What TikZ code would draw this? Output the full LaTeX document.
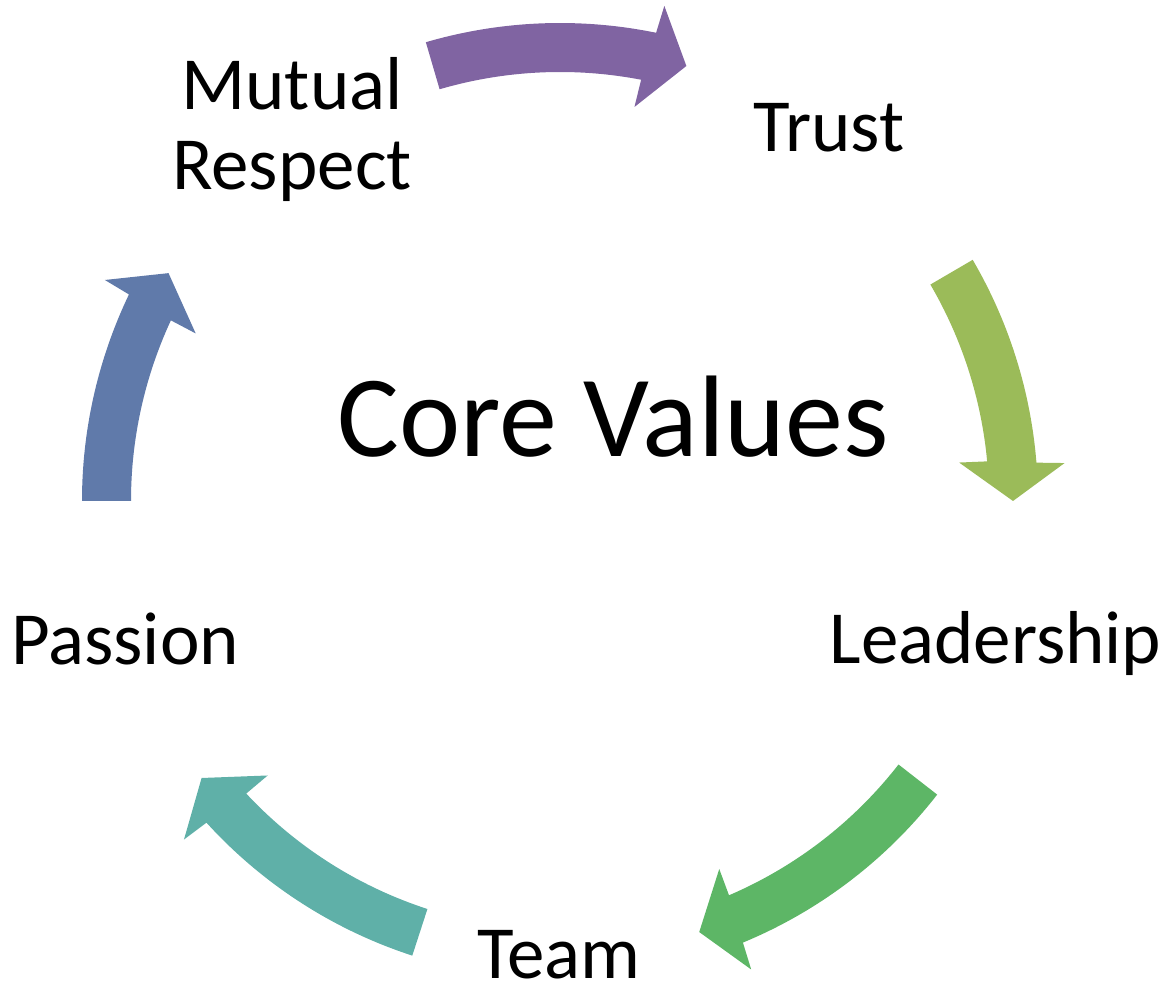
\documentclass[tikz,border=0pt]{standalone}
\usepackage{fontspec}
\setmainfont{Carlito}
\usepackage{tikz}

\definecolor{arrowpurple}{RGB}{128,100,162}
\definecolor{arrowlime}{RGB}{155,187,89}
\definecolor{arrowgreen}{RGB}{93,182,102}
\definecolor{arrowteal}{RGB}{95,176,168}
\definecolor{arrowblue}{RGB}{96,122,170}

\tikzset{
  value/.style={inner sep=0pt, anchor=base, align=center,
    font=\fontsize{75}{80}\selectfont},
  core/.style={inner sep=0pt, anchor=base,
    font=\fontsize{116}{120}\selectfont},
}

% curved block arrow on the ring: colour, tail angle, tip angle
\newcommand{\ringarrow}[3]{%
  \fill[#1] (#2:478) arc[start angle=#2, end angle={#3+4.6}, radius=478]
    -- ({#3+4.3}:506) -- (#3:453) -- ({#3+5.5}:401) -- ({#3+5.3}:429)
    arc[start angle={#3+5.3}, end angle=#2, radius=429] -- cycle;
}

\begin{document}
\begin{tikzpicture}[x=1pt, y=1pt]
  \useasboundingbox (0,0) rectangle (1165,984);

  % arrows around the ring
  \begin{scope}[shift={(560,483)}]
    \foreach \col/\from/\to in {
        arrowpurple/106.3/73.8,
        arrowlime/30.3/0,
        arrowgreen/-37.9/-72.1,
        arrowteal/-108/-142.3,
        arrowblue/180/149.8} {
      \ringarrow{\col}{\from}{\to}
    }
  \end{scope}

  % values
  \foreach \n/\x/\y/\txt in {
      trust/829/832/Trust,
      leadership/995.5/320/Leadership,
      team/559/5/Team,
      passion/125/319/Passion,
      respect/292/794/{Mutual\\Respect}} {
    \node[value] (\n) at (\x,\y) {\txt};
  }

  % centre title
  \node[core] (corevalues) at (613,527) {Core Values};
\end{tikzpicture}
\end{document}
